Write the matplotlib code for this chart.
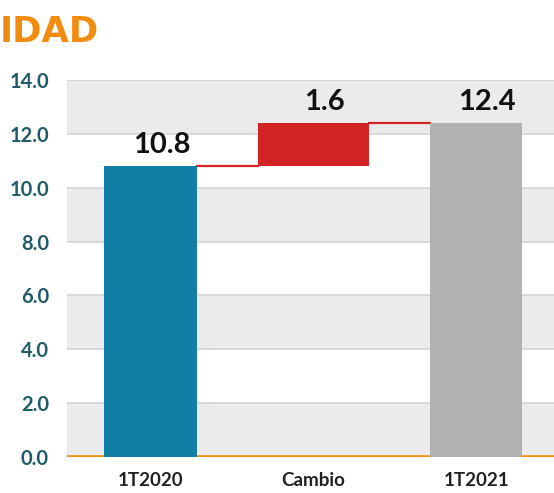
import matplotlib
matplotlib.use("Agg")
import matplotlib.pyplot as plt

categories = ["1T2020", "Cambio", "1T2021"]
start_value = 10.8
change_value = 1.6
end_value = 12.4
value_labels = ["10.8", "1.6", "12.4"]
yticks = [0, 2, 4, 6, 8, 10, 12, 14]
title_text = "IDAD"

plt.rcParams['font.family'] = ['Lato', 'DejaVu Sans']

W, H = 554, 493
fig = plt.figure(figsize=(W / 100, H / 100), dpi=100)
ax = fig.add_axes([67 / W, 36 / H, (554 - 67) / W, (457 - 80) / H])

ax.set_xlim(-0.513, 2.479)
ax.set_ylim(0, 14)

# alternating bands
for lo in range(0, 14, 4):
    ax.axhspan(lo, lo + 2, color="#ebebeb", zorder=0, lw=0)
for t in yticks[1:]:
    ax.axhline(t, color="#d3d3d3", lw=1.2, zorder=1)

x = [0, 1, 2]
widths = [0.57, 0.68, 0.565]
bottoms = [0, start_value, 0]
heights = [start_value, change_value, end_value]
colors = ["#117ea6", "#d22424", "#b1b1b1"]
ax.bar(x, heights, bottom=bottoms, width=widths, color=colors, zorder=3)

# connectors
ax.plot([x[0] + widths[0] / 2, x[1] - widths[1] / 2], [start_value, start_value],
        color="#d22424", lw=1.6, zorder=2)
ax.plot([x[1] + widths[1] / 2, x[2] - widths[2] / 2],
        [start_value + change_value, start_value + change_value],
        color="#d22424", lw=1.6, zorder=2)

tops = [start_value, start_value + change_value, end_value]
for xi, top, lab in zip(x, tops, value_labels):
    ax.annotate(lab, (xi, top), xytext=(11, 8), textcoords="offset pixels",
                ha="center", va="bottom", fontsize=21, fontweight="bold",
                color="#111111", zorder=5)

ax.axhline(0, color="#f28c0f", lw=2.6, zorder=2.5)

ax.set_yticks(yticks)
ax.set_yticklabels([f"{v:.1f}" for v in yticks], fontsize=14.5, fontweight="bold",
                   color="#1f5c68")
ax.set_xticks(x)
ax.set_xticklabels(categories, fontsize=13.5, fontweight="bold", color="#222222")
ax.tick_params(axis="both", length=0)
ax.tick_params(axis="y", pad=13)
ax.tick_params(axis="x", pad=11)
for s in ax.spines.values():
    s.set_visible(False)

fig.text(0, 1 - 41.5 / H, title_text, fontsize=25.5, fontweight="bold",
         family="DejaVu Sans", color="#f28c0f", ha="left", va="baseline")

fig.savefig("out.png", dpi=100)
